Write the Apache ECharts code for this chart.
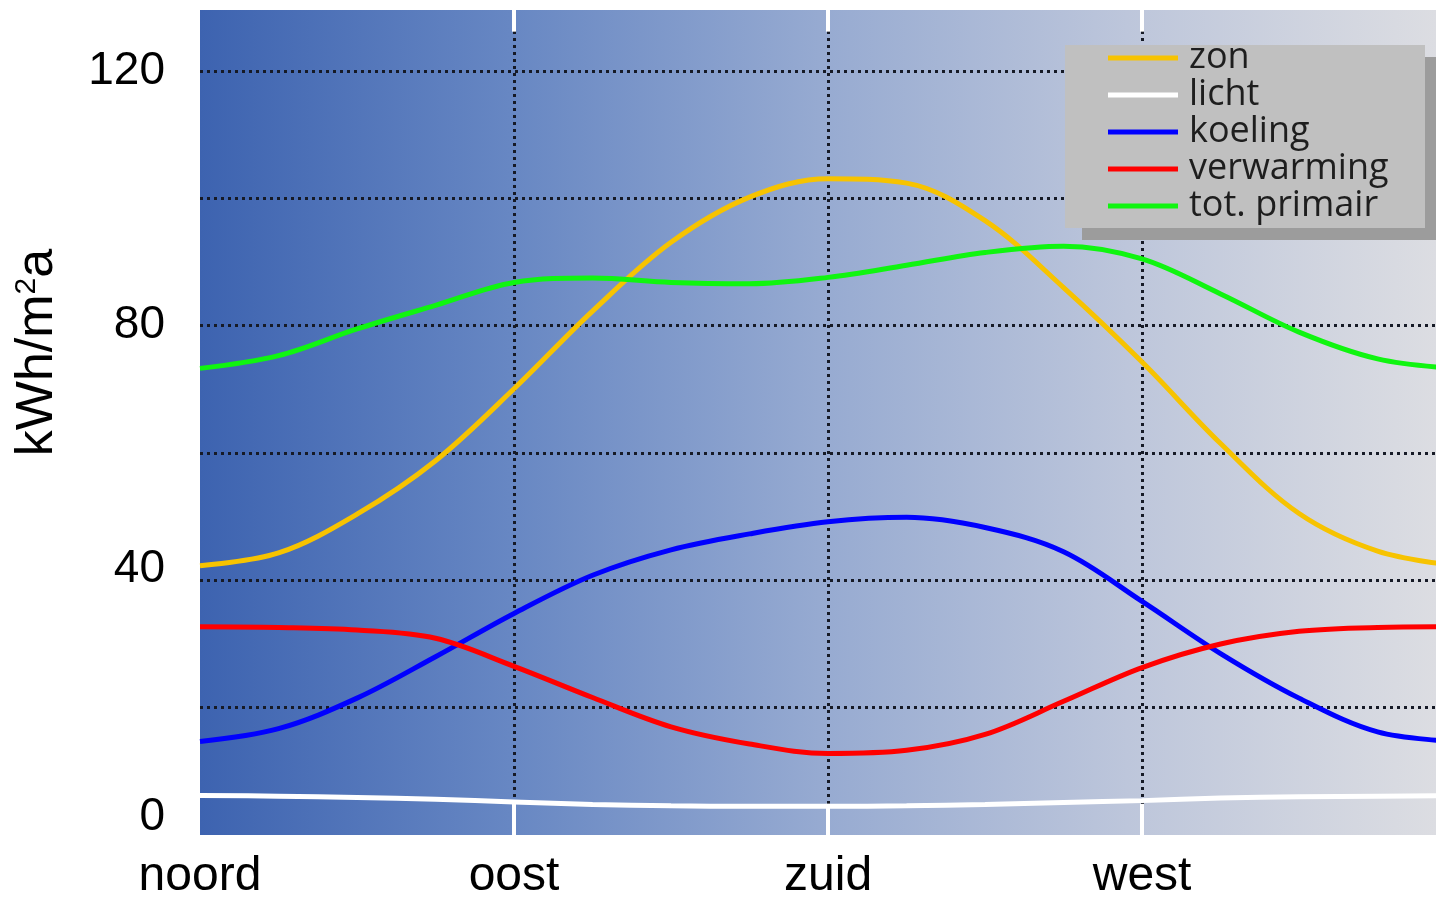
<!DOCTYPE html>
<html><head><meta charset="utf-8">
<script src="https://cdn.jsdelivr.net/npm/echarts@6/dist/echarts.min.js"></script>
<style>html,body{margin:0;padding:0;background:#fff}#c{width:1436px;height:901px}</style>
</head><body><div id="c"></div>
<script>
// x positions: 0 = noord, 1 = oost, 2 = zuid, 3 = west, 4 = noord
const positions = [0,0.25,0.5,0.75,1,1.25,1.5,1.75,2,2.25,2.5,2.75,3,3.25,3.5,3.75,4];
const directionLabels = ['noord','oost','zuid','west'];
const yTickLabels = [0,40,80,120];
const zon        = [42.3,44.3,50.4,58.8,70.1,82.3,93.1,100.2,103.1,102.4,96.5,86.0,74.3,61.5,50.5,44.6,42.3];
const licht      = [6.2,6.1,5.9,5.6,5.2,4.8,4.6,4.5,4.5,4.6,4.8,5.1,5.4,5.8,6.0,6.1,6.2];
const koeling    = [14.7,16.7,21.5,28.0,34.8,40.8,44.8,47.3,49.2,49.9,48.3,44.5,36.7,28.5,21.5,16.2,14.7];
const verwarming = [32.7,32.6,32.2,30.9,26.5,21.6,17.0,14.3,12.8,13.3,15.8,21.0,26.3,30.0,32.0,32.6,32.7];
const totPrimair = [73.3,75.3,79.5,83.2,86.8,87.5,86.8,86.6,87.6,89.5,91.5,92.5,90.5,85.0,79.0,74.8,73.3];

const pair = arr => positions.map((x, i) => [x, arr[i]]);
const dotted = {color: '#161a26', width: 3, type: [3, 4]};
const FONT = 'Arial, "Liberation Sans", sans-serif';

function mkSeries(name, data, color, extra) {
  return Object.assign({
    name, type: 'line', data: pair(data), smooth: 0.35, symbol: 'none',
    color, lineStyle: {color, width: 5}, z: 2
  }, extra || {});
}

const chart = echarts.init(document.getElementById('c'), null, {renderer: 'canvas'});
chart.setOption({
  animation: false,
  backgroundColor: '#ffffff',
  grid: {
    left: 200, right: 0, top: 10, bottom: 64.6, show: true, borderWidth: 0,
    backgroundColor: {type: 'linear', x: 0, y: 0, x2: 1, y2: 0, colorStops: [
      {offset: 0, color: '#3d63b0'}, {offset: 0.25, color: '#6787c3'},
      {offset: 0.5, color: '#96aad1'}, {offset: 0.75, color: '#bdc6db'},
      {offset: 1, color: '#dcdde2'}]}
  },
  xAxis: {
    type: 'value', min: 0, max: 3.936, interval: 1,
    axisLine: {show: false}, axisTick: {show: false},
    splitLine: {show: true, showMinLine: false, showMaxLine: false, lineStyle: dotted},
    axisLabel: {
      margin: 18, color: '#000', fontSize: 48, fontFamily: FONT,
      showMaxLabel: false,
      formatter: v => directionLabels[v] || ''
    }
  },
  yAxis: {
    type: 'value', min: 0, max: 129.6, interval: 20,
    axisLine: {show: false}, axisTick: {show: false},
    splitLine: {show: true, showMinLine: false, showMaxLine: false, lineStyle: dotted},
    name: 'kWh/m{sup|2}a', nameLocation: 'middle', nameRotate: 90, nameGap: 136,
    nameTextStyle: {
      color: '#000', fontSize: 52, fontFamily: FONT, padding: [0, 0, 0, 140],
      rich: {sup: {fontSize: 30, fontFamily: FONT, color: '#000', verticalAlign: 'top', padding: [0, 0, 20, 0]}}
    },
    axisLabel: {
      margin: 35, color: '#000', fontSize: 46, fontFamily: FONT,
      formatter: v => {
        if (!yTickLabels.includes(v)) return '';
        if (v === 0) return '{s0|0}';
        if (v === 40) return '{s40|40}';
        return String(v);
      },
      rich: {
        s0: {fontSize: 46, fontFamily: FONT, color: '#000', padding: [0, 0, 36, 0]},
        s40: {fontSize: 46, fontFamily: FONT, color: '#000', padding: [0, 0, 22, 0]}
      }
    }
  },
  legend: {
    orient: 'vertical', left: 1108, top: 40, padding: 0, itemGap: 1,
    icon: 'rect', itemWidth: 70, itemHeight: 5, z: 6,
    data: ['zon', 'licht', 'koeling', 'verwarming', 'tot. primair'],
    textStyle: {fontFamily: '"Open Sans", sans-serif', fontSize: 36, color: '#1e1e1e', padding: [0, 0, 0, 6]}
  },
  graphic: [
    {type: 'rect', z: 5, shape: {x: 1082, y: 57, width: 360, height: 183}, style: {fill: '#9c9c9c'}},
    {type: 'rect', z: 5, shape: {x: 1065, y: 45, width: 360, height: 183}, style: {fill: '#c0c0c0'}}
  ],
  series: [
    mkSeries('licht', licht, '#ffffff', {
      markLine: {
        silent: true, symbol: 'none', label: {show: false},
        lineStyle: {color: '#ffffff', width: 4, type: 'solid'},
        data: [
          [{coord: [1, 0]}, {coord: [1, 4.9]}], [{coord: [2, 0]}, {coord: [2, 4.9]}], [{coord: [3, 0]}, {coord: [3, 4.9]}],
          [{coord: [1, 126.2]}, {coord: [1, 129.6]}], [{coord: [2, 126.2]}, {coord: [2, 129.6]}], [{coord: [3, 126.2]}, {coord: [3, 129.6]}]
        ]
      }
    }),
    mkSeries('zon', zon, '#f7c300'),
    mkSeries('tot. primair', totPrimair, '#10f510'),
    mkSeries('koeling', koeling, '#0000ff'),
    mkSeries('verwarming', verwarming, '#ff0000')
  ]
});
</script></body></html>
